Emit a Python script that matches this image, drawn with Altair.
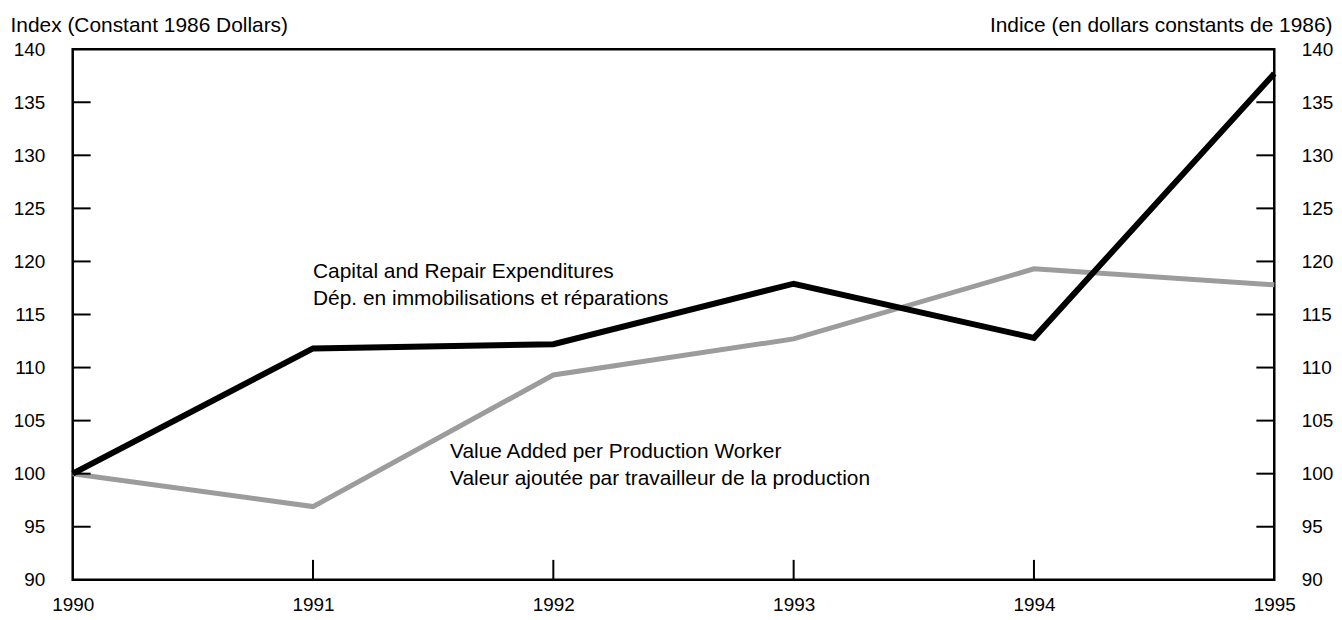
import altair as alt
import pandas as pd

# ---- data ----
years = [1990, 1991, 1992, 1993, 1994, 1995]
capital_repair = [100, 111.8, 112.2, 117.9, 112.8, 137.7]
value_added = [100, 96.9, 109.3, 112.7, 119.3, 117.8]

y_tick_values = [90, 95, 100, 105, 110, 115, 120, 125, 130, 135, 140]
x_tick_values = [1990, 1991, 1992, 1993, 1994, 1995]

label_text = [
    "Capital and Repair Expenditures\nDép. en immobilisations et réparations",
    "Value Added per Production Worker\nValeur ajoutée par travailleur de la production",
]
label_x = [1991.0, 1991.57]
label_y = [118.4, 101.45]

left_title = "Index (Constant 1986 Dollars)"
right_title = "Indice (en dollars constants de 1986)"

W, H = 1207, 533
FONT = "Liberation Sans"

cap_df = pd.DataFrame({"year": years, "value": capital_repair})
va_df = pd.DataFrame({"year": years, "value": value_added})
ytick_df = pd.DataFrame({"v": y_tick_values[1:-1]})
xtick_df = pd.DataFrame({"year": x_tick_values[1:-1]})
lab_df = pd.DataFrame({"x": label_x, "y": label_y, "label": label_text})

xs = alt.Scale(domain=[1990, 1995], nice=False, zero=False)
ys = alt.Scale(domain=[90, 140], nice=False, zero=False)

x_axis = alt.Axis(values=x_tick_values, format="d", ticks=False, tickSize=0, domain=False,
                  grid=False, labelFontSize=19, labelPadding=16, labelFont=FONT,
                  labelColor="black", title=None, labelFlush=False, labelOverlap=False,
                  orient="bottom")

left_axis = alt.Axis(values=y_tick_values, ticks=False, tickSize=0, domain=False, grid=False,
                     labelFontSize=19, labelPadding=28, labelFont=FONT, labelColor="black",
                     title=left_title, titleAngle=0, titleAlign="left", titleBaseline="alphabetic",
                     titleX=-63, titleY=-18, titleFontSize=21, titleFontWeight="normal",
                     titleFont=FONT, titleColor="black", orient="left")

right_axis = alt.Axis(values=y_tick_values, ticks=False, tickSize=0, domain=False, grid=False,
                      labelFontSize=19, labelPadding=27, labelFont=FONT, labelColor="black",
                      title=right_title, titleAngle=0, titleAlign="right", titleBaseline="alphabetic",
                      titleX=58, titleY=-18, titleFontSize=21, titleFontWeight="normal",
                      titleFont=FONT, titleColor="black", orient="right")

X = alt.X("year:Q", scale=xs, axis=x_axis)

gray_line = alt.Chart(va_df).mark_line(color="#9c9c9c", strokeWidth=5).encode(
    x=X,
    y=alt.Y("value:Q", scale=ys, axis=left_axis),
)

black_line = alt.Chart(cap_df).mark_line(color="black", strokeWidth=6).encode(
    x=X,
    y=alt.Y("value:Q", scale=ys, axis=right_axis),
)

left_ticks = alt.Chart(ytick_df).mark_rule(color="black", strokeWidth=2).encode(
    y=alt.Y("v:Q", scale=ys, axis=None), x=alt.value(0), x2=alt.value(18))
right_ticks = alt.Chart(ytick_df).mark_rule(color="black", strokeWidth=2).encode(
    y=alt.Y("v:Q", scale=ys, axis=None), x=alt.value(W - 18), x2=alt.value(W))
bottom_ticks = alt.Chart(xtick_df).mark_rule(color="black", strokeWidth=2).encode(
    x=X, y=alt.value(H - 20), y2=alt.value(H))

labels = alt.Chart(lab_df).mark_text(align="left", baseline="alphabetic", fontSize=21,
                                     font=FONT, lineHeight=27, lineBreak="\n",
                                     color="black").encode(
    x=alt.X("x:Q", scale=xs, axis=x_axis),
    y=alt.Y("y:Q", scale=ys, axis=None),
    text="label:N",
)

chart = alt.layer(gray_line, black_line, left_ticks, right_ticks, bottom_ticks, labels).resolve_scale(
    y="independent", x="shared"
).properties(
    width=W, height=H,
    padding={"left": 65, "top": 40, "right": 60, "bottom": 38},
    autosize=alt.AutoSizeParams(type="none"),
    background="white",
).configure_view(stroke="black", strokeWidth=2.5)

chart.save("out.html", embed_options={"renderer": "svg", "actions": False})
